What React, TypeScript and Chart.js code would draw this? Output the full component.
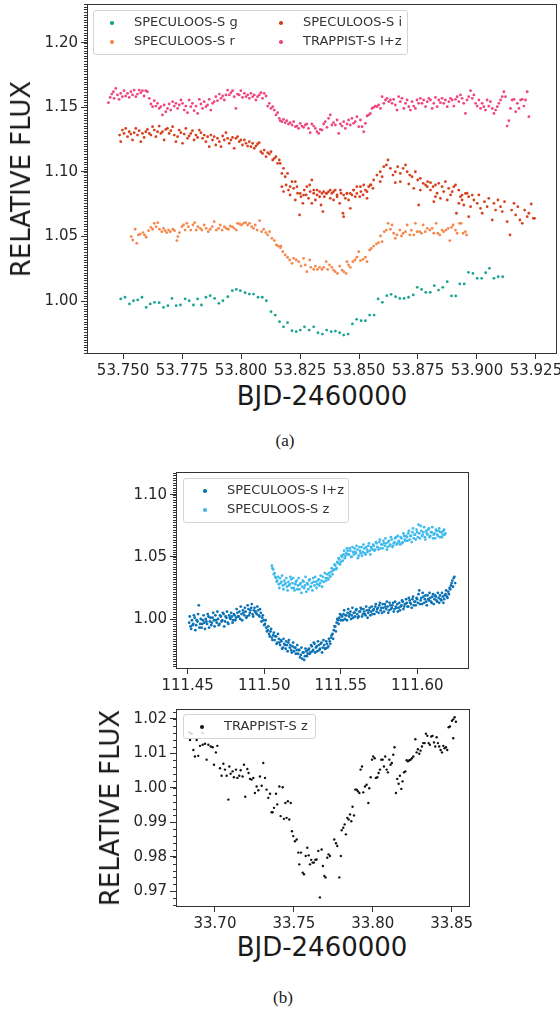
import React, { useEffect, useRef } from 'react';
import { Chart, registerables } from 'chart.js';

Chart.register(...registerables);
Chart.defaults.font.family = '"DejaVu Sans", sans-serif';

type Pt = [number, number];

// ---------- Panel (a) : BJD-2460000 vs relative flux ----------
const A_X_TICKS = [53.75, 53.775, 53.8, 53.825, 53.85, 53.875, 53.9, 53.925];
const A_Y_TICKS = [1.0, 1.05, 1.1, 1.15, 1.2];

const SPEC_G: Pt[] = [
[53.7490,1.0016],[53.7508,1.0029],[53.7527,0.9977],[53.7544,1.0002],[53.7562,1.0008],[53.7580,1.0029],[53.7598,0.9951],[53.7615,0.9977],[53.7633,0.9990],[53.7653,0.9987],
[53.7671,0.9951],[53.7690,0.9964],[53.7707,1.0020],[53.7725,0.9964],[53.7743,0.9969],[53.7763,1.0016],[53.7780,1.0002],[53.7798,0.9969],[53.7816,1.0016],[53.7832,0.9969],
[53.7851,1.0029],[53.7869,1.0041],[53.7888,1.0020],[53.7906,0.9982],[53.7923,1.0002],[53.7944,1.0033],[53.7963,1.0080],[53.7980,1.0090],[53.7997,1.0080],[53.8017,1.0064],
[53.8035,1.0054],[53.8053,1.0054],[53.8072,1.0029],[53.8090,1.0029],[53.8107,1.0002],[53.8127,0.9917],[53.8145,0.9891],[53.8163,0.9840],[53.8180,0.9800],[53.8197,0.9832],
[53.8216,0.9770],[53.8234,0.9762],[53.8251,0.9775],[53.8269,0.9800],[53.8289,0.9775],[53.8308,0.9800],[53.8326,0.9754],[53.8345,0.9744],[53.8363,0.9775],[53.8382,0.9762],
[53.8400,0.9767],[53.8418,0.9754],[53.8435,0.9736],[53.8454,0.9744],[53.8472,0.9822],[53.8490,0.9858],[53.8509,0.9847],[53.8527,0.9847],[53.8545,0.9891],[53.8564,0.9891],
[53.8581,1.0016],[53.8599,0.9990],[53.8618,1.0041],[53.8636,1.0052],[53.8655,1.0033],[53.8673,1.0020],[53.8691,1.0020],[53.8710,1.0029],[53.8730,1.0047],[53.8747,1.0106],
[53.8765,1.0090],[53.8783,1.0067],[53.8802,1.0067],[53.8819,1.0119],[53.8837,1.0085],[53.8855,1.0106],[53.8874,1.0150],[53.8892,1.0039],[53.8910,1.0039],[53.8927,1.0132],
[53.8946,1.0132],[53.8964,1.0222],[53.8983,1.0214],[53.9001,1.0176],[53.9020,1.0176],[53.9037,1.0219],[53.9053,1.0253],[53.9072,1.0176],[53.9090,1.0188],[53.9109,1.0188]
];

const SPEC_R: Pt[] = [
[53.7534,1.0499],[53.7541,1.0473],[53.7551,1.0556],[53.7558,1.0447],[53.7565,1.0512],[53.7572,1.0519],[53.7584,1.0530],[53.7591,1.0512],[53.7598,1.0494],[53.7608,1.0545],
[53.7618,1.0571],[53.7625,1.0556],[53.7632,1.0602],[53.7640,1.0576],[53.7647,1.0607],[53.7654,1.0556],[53.7664,1.0537],[53.7671,1.0563],[53.7678,1.0545],[53.7685,1.0530],
[53.7693,1.0550],[53.7700,1.0537],[53.7711,1.0556],[53.7718,1.0545],[53.7728,1.0468],[53.7732,1.0499],[53.7739,1.0530],[53.7749,1.0576],[53.7756,1.0589],[53.7763,1.0550],
[53.7770,1.0602],[53.7777,1.0576],[53.7787,1.0550],[53.7796,1.0589],[53.7803,1.0607],[53.7810,1.0550],[53.7817,1.0576],[53.7827,1.0563],[53.7834,1.0550],[53.7844,1.0589],
[53.7852,1.0563],[53.7861,1.0537],[53.7869,1.0556],[53.7878,1.0576],[53.7886,1.0615],[53.7895,1.0550],[53.7905,1.0563],[53.7912,1.0589],[53.7920,1.0550],[53.7929,1.0576],
[53.7937,1.0563],[53.7946,1.0556],[53.7954,1.0581],[53.7963,1.0576],[53.7971,1.0563],[53.7980,1.0550],[53.7985,1.0602],[53.7994,1.0597],[53.8002,1.0589],[53.8011,1.0602],
[53.8019,1.0607],[53.8028,1.0589],[53.8036,1.0602],[53.8045,1.0576],[53.8053,1.0563],[53.8060,1.0589],[53.8068,1.0550],[53.8079,1.0623],[53.8087,1.0537],[53.8096,1.0556],
[53.8105,1.0530],[53.8113,1.0512],[53.8121,1.0537],[53.8131,1.0486],[53.8141,1.0468],[53.8150,1.0434],[53.8158,1.0426],[53.8167,1.0413],
[53.8169,1.0426],[53.8177,1.0382],[53.8187,1.0357],[53.8197,1.0339],[53.8206,1.0318],[53.8216,1.0292],[53.8223,1.0331],[53.8234,1.0318],[53.8244,1.0305],[53.8254,1.0271],
[53.8265,1.0331],[53.8272,1.0279],[53.8279,1.0227],[53.8291,1.0318],[53.8296,1.0261],[53.8308,1.0245],[53.8315,1.0271],[53.8324,1.0245],[53.8333,1.0261],[53.8343,1.0245],
[53.8350,1.0261],[53.8361,1.0305],[53.8367,1.0245],[53.8375,1.0279],[53.8385,1.0261],[53.8392,1.0240],[53.8399,1.0227],[53.8409,1.0214],[53.8418,1.0271],[53.8428,1.0240],
[53.8435,1.0227],[53.8445,1.0214],[53.8449,1.0305],[53.8456,1.0279],[53.8463,1.0261],[53.8474,1.0305],[53.8483,1.0318],[53.8491,1.0339],[53.8499,1.0382],[53.8506,1.0313],
[53.8517,1.0323],[53.8527,1.0339],[53.8534,1.0305],[53.8545,1.0395],[53.8552,1.0408],[53.8562,1.0426],[53.8574,1.0442],[53.8583,1.0452],[53.8591,1.0504],[53.8598,1.0460],
[53.8607,1.0537],[53.8616,1.0550],[53.8623,1.0602],[53.8633,1.0556],[53.8640,1.0589],[53.8647,1.0525],[53.8654,1.0486],[53.8661,1.0512],[53.8673,1.0550],[53.8680,1.0504],
[53.8687,1.0525],[53.8697,1.0537],[53.8704,1.0589],[53.8715,1.0512],[53.8722,1.0550],[53.8732,1.0512],[53.8739,1.0602],[53.8746,1.0537],[53.8757,1.0537],[53.8765,1.0525],
[53.8772,1.0589],[53.8781,1.0537],[53.8789,1.0563],[53.8800,1.0550],[53.8810,1.0563],[53.8817,1.0525],[53.8827,1.0602],[53.8834,1.0525],[53.8842,1.0512],[53.8852,1.0550],
[53.8859,1.0537],[53.8869,1.0550],[53.8878,1.0563],[53.8885,1.0468],[53.8892,1.0571],[53.8899,1.0589],[53.8909,1.0550],[53.8916,1.0525],[53.8926,1.0602],[53.8933,1.0602],
[53.8941,1.0525],[53.8951,1.0537],[53.8956,1.0512]
];

const SPEC_I: Pt[] = [
[53.7485,1.1286],[53.7490,1.1235],[53.7497,1.1325],[53.7504,1.1299],[53.7511,1.1338],[53.7519,1.1274],[53.7526,1.1312],[53.7533,1.1294],[53.7540,1.1248],[53.7547,1.1305],
[53.7554,1.1338],[53.7561,1.1286],[53.7568,1.1320],[53.7575,1.1235],[53.7582,1.1299],[53.7589,1.1268],[53.7596,1.1312],[53.7603,1.1330],[53.7611,1.1299],[53.7618,1.1286],
[53.7625,1.1351],[53.7632,1.1325],[53.7639,1.1274],[53.7646,1.1312],[53.7653,1.1356],[53.7660,1.1299],[53.7667,1.1312],[53.7674,1.1248],[53.7681,1.1330],[53.7688,1.1338],
[53.7695,1.1299],[53.7702,1.1320],[53.7710,1.1351],[53.7717,1.1286],[53.7724,1.1235],[53.7731,1.1274],[53.7738,1.1325],[53.7745,1.1305],[53.7752,1.1222],[53.7759,1.1294],
[53.7766,1.1338],[53.7773,1.1261],[53.7780,1.1279],[53.7787,1.1299],[53.7794,1.1320],[53.7801,1.1248],[53.7809,1.1286],[53.7816,1.1268],[53.7823,1.1325],[53.7830,1.1305],
[53.7837,1.1261],[53.7844,1.1286],[53.7851,1.1235],[53.7858,1.1274],[53.7865,1.1196],[53.7872,1.1286],[53.7879,1.1248],[53.7886,1.1274],[53.7893,1.1209],[53.7900,1.1261],
[53.7908,1.1235],[53.7915,1.1196],[53.7922,1.1279],[53.7929,1.1248],[53.7936,1.1305],[53.7943,1.1261],[53.7950,1.1222],[53.7957,1.1248],[53.7964,1.1268],[53.7971,1.1183],
[53.7978,1.1261],[53.7985,1.1274],[53.7992,1.1235],[53.7999,1.1248],[53.8006,1.1209],[53.8014,1.1248],[53.8021,1.1222],[53.8028,1.1201],[53.8035,1.1235],[53.8042,1.1196],
[53.8049,1.1222],[53.8056,1.1183],[53.8063,1.1201],[53.8070,1.1217],[53.8077,1.1227],[53.8084,1.1157],[53.8091,1.1144],[53.8098,1.1170],[53.8106,1.1119],[53.8113,1.1150],
[53.8120,1.1139],[53.8127,1.1157],[53.8134,1.1093],[53.8141,1.1106],[53.8148,1.1119],[53.8155,1.1067],[53.8162,1.1093],
[53.8166,1.1067],[53.8173,1.0989],[53.8180,1.1028],[53.8187,1.0963],[53.8197,1.0989],[53.8208,1.0886],[53.8216,1.0925],[53.8230,1.0925],[53.8237,1.0886],[53.8251,1.0834],
[53.8265,1.0821],[53.8279,1.0886],[53.8291,1.0899],[53.8300,1.0938],[53.8308,1.0860],[53.8322,1.0860],[53.8333,1.0808],[53.8343,1.0834],[53.8350,1.0847],[53.8364,1.0834],
[53.8378,1.0860],[53.8392,1.0847],[53.8407,1.0808],[53.8421,1.0860],[53.8435,1.0821],[53.8449,1.0834],[53.8463,1.0834],[53.8477,1.0860],[53.8491,1.0834],[53.8506,1.0886],
[53.8520,1.0899],[53.8534,1.0847],[53.8548,1.0899],[53.8562,1.0938],[53.8576,1.0976],[53.8590,1.1002],[53.8598,1.0963],[53.8605,1.1041],[53.8616,1.1054],[53.8623,1.1093],
[53.8633,1.1028],[53.8644,1.0976],[53.8654,1.1002],[53.8664,1.1041],[53.8675,1.0989],[53.8687,1.1028],[53.8697,1.1054],[53.8704,1.1002],[53.8715,1.0976],[53.8725,1.0963],
[53.8739,1.1002],[53.8749,1.0938],[53.8760,1.0951],[53.8772,1.0912],[53.8782,1.0899],[53.8791,1.0925],[53.8803,1.0917],[53.8814,1.0886],[53.8824,1.0899],[53.8838,1.0912],
[53.8852,1.0886],[53.8866,1.0925],[53.8880,1.0873],[53.8895,1.0847],[53.8909,1.0899],[53.8923,1.0860],[53.8937,1.0821],[53.8951,1.0834],[53.8965,1.0808],[53.8980,1.0821],
[53.8173,1.0886],[53.8180,1.0848],[53.8191,1.0899],[53.8201,1.0860],[53.8208,1.0822],[53.8223,1.0873],[53.8230,1.0783],[53.8240,1.0835],[53.8248,1.0667],[53.8254,1.0809],
[53.8262,1.0757],[53.8268,1.0860],[53.8276,1.0822],[53.8286,1.0796],[53.8293,1.0848],[53.8300,1.0757],[53.8308,1.0835],[53.8315,1.0783],[53.8322,1.0822],[53.8333,1.0848],
[53.8339,1.0744],[53.8347,1.0693],[53.8353,1.0809],[53.8361,1.0835],[53.8371,1.0848],[53.8378,1.0796],[53.8385,1.0835],[53.8392,1.0783],[53.8399,1.0860],[53.8407,1.0822],
[53.8418,1.0757],[53.8424,1.0835],[53.8432,1.0680],[53.8435,1.0654],[53.8442,1.0796],[53.8449,1.0835],[53.8456,1.0783],[53.8463,1.0718],[53.8470,1.0822],[53.8477,1.0860],
[53.8484,1.0809],[53.8491,1.0886],[53.8503,1.0809],[53.8508,1.0848],[53.8517,1.0822],[53.8527,1.0860],[53.8534,1.0796],[53.8541,1.0886],[53.8551,1.0899],[53.8559,1.0873],
[53.8590,1.0925],[53.8654,1.0917],[53.8675,1.0925],[53.8711,1.0907],[53.8732,1.0873],[53.8760,1.0860],
[53.8753,1.0744],[53.8789,1.0886],[53.8803,1.0860],[53.8817,1.0770],[53.8824,1.0809],[53.8831,1.0835],[53.8845,1.0796],[53.8859,1.0848],[53.8874,1.0783],[53.8888,1.0822],
[53.8902,1.0886],[53.8913,1.0680],[53.8923,1.0757],[53.8930,1.0809],[53.8937,1.0783],[53.8944,1.0744],[53.8958,1.0835],[53.8965,1.0654],[53.8973,1.0731],[53.8987,1.0783],
[53.9001,1.0757],[53.9008,1.0822],[53.9015,1.0718],[53.9022,1.0680],[53.9032,1.0770],[53.9043,1.0731],[53.9050,1.0796],[53.9065,1.0628],[53.9072,1.0757],[53.9079,1.0705],
[53.9089,1.0783],[53.9100,1.0731],[53.9107,1.0693],[53.9117,1.0770],[53.9128,1.0615],[53.9140,1.0512],[53.9147,1.0705],[53.9157,1.0757],[53.9164,1.0667],[53.9173,1.0731],
[53.9182,1.0628],[53.9192,1.0602],[53.9202,1.0705],[53.9213,1.0654],[53.9220,1.0680],[53.9230,1.0752],[53.9239,1.0641],[53.9244,1.0641]
];

const TRAP_IZ: Pt[] = [
[53.7438,1.1537],[53.7445,1.1578],[53.7452,1.1604],[53.7459,1.1622],[53.7462,1.1571],[53.7469,1.1648],[53.7476,1.1597],[53.7483,1.1563],
[53.7490,1.1610],[53.7497,1.1584],[53.7504,1.1630],[53.7511,1.1589],[53.7519,1.1610],[53.7526,1.1578],[53.7533,1.1622],[53.7540,1.1597],[53.7547,1.1635],[53.7554,1.1584],
[53.7561,1.1604],[53.7568,1.1635],[53.7575,1.1615],[53.7582,1.1630],[53.7589,1.1589],[53.7596,1.1630],[53.7603,1.1622],[53.7611,1.1571],[53.7618,1.1527],[53.7625,1.1506],
[53.7632,1.1553],[53.7639,1.1511],[53.7646,1.1532],[53.7653,1.1493],[53.7660,1.1506],[53.7667,1.1442],[53.7674,1.1519],[53.7681,1.1467],[53.7688,1.1493],[53.7695,1.1527],
[53.7702,1.1480],[53.7710,1.1545],[53.7717,1.1511],[53.7724,1.1532],[53.7731,1.1493],[53.7738,1.1519],[53.7745,1.1558],[53.7752,1.1532],[53.7759,1.1480],[53.7766,1.1511],
[53.7773,1.1460],[53.7780,1.1558],[53.7787,1.1506],[53.7794,1.1532],[53.7801,1.1475],[53.7809,1.1511],[53.7816,1.1454],[53.7823,1.1563],[53.7830,1.1527],[53.7837,1.1493],
[53.7844,1.1545],[53.7851,1.1506],[53.7858,1.1519],[53.7865,1.1563],[53.7872,1.1480],[53.7879,1.1532],[53.7886,1.1545],[53.7893,1.1584],[53.7900,1.1553],[53.7908,1.1604],
[53.7915,1.1571],[53.7922,1.1589],[53.7929,1.1558],[53.7936,1.1597],[53.7943,1.1635],[53.7950,1.1597],[53.7957,1.1615],[53.7964,1.1630],[53.7971,1.1584],[53.7978,1.1493],
[53.7985,1.1604],[53.7992,1.1597],[53.7999,1.1630],[53.8006,1.1578],[53.8014,1.1610],[53.8021,1.1584],[53.8028,1.1597],[53.8035,1.1571],[53.8042,1.1610],[53.8049,1.1584],
[53.8056,1.1597],[53.8063,1.1558],[53.8070,1.1584],[53.8077,1.1597],[53.8084,1.1615],[53.8091,1.1571],[53.8098,1.1610],[53.8106,1.1589],[53.8113,1.1511],[53.8120,1.1532],
[53.8127,1.1493],[53.8134,1.1506],[53.8141,1.1480],[53.8148,1.1442],[53.8155,1.1460],[53.8162,1.1416],
[53.8166,1.1398],[53.8173,1.1390],[53.8180,1.1408],[53.8187,1.1382],[53.8194,1.1398],[53.8201,1.1372],[53.8208,1.1382],[53.8216,1.1364],[53.8223,1.1390],[53.8230,1.1351],
[53.8237,1.1356],[53.8244,1.1338],[53.8251,1.1377],[53.8258,1.1356],[53.8265,1.1346],[53.8272,1.1364],[53.8279,1.1372],[53.8286,1.1338],[53.8293,1.1305],[53.8300,1.1372],
[53.8308,1.1356],[53.8315,1.1338],[53.8322,1.1312],[53.8329,1.1299],[53.8336,1.1330],[53.8343,1.1325],[53.8350,1.1372],[53.8357,1.1390],[53.8364,1.1346],[53.8371,1.1416],
[53.8378,1.1442],[53.8385,1.1364],[53.8392,1.1382],[53.8400,1.1364],[53.8407,1.1403],[53.8414,1.1299],[53.8421,1.1372],[53.8428,1.1356],[53.8435,1.1390],[53.8442,1.1338],
[53.8449,1.1372],[53.8456,1.1403],[53.8463,1.1364],[53.8470,1.1416],[53.8477,1.1377],[53.8484,1.1390],[53.8491,1.1429],[53.8499,1.1351],[53.8506,1.1403],[53.8513,1.1351],
[53.8520,1.1312],[53.8527,1.1377],[53.8534,1.1434],[53.8541,1.1442],[53.8548,1.1454],[53.8555,1.1493],[53.8562,1.1501],[53.8569,1.1511],[53.8576,1.1506],[53.8583,1.1519],
[53.8591,1.1493],[53.8598,1.1584],[53.8605,1.1532],[53.8612,1.1558],[53.8619,1.1571],[53.8626,1.1545],[53.8633,1.1558],[53.8640,1.1532],[53.8647,1.1563],[53.8654,1.1519],
[53.8661,1.1480],[53.8668,1.1584],[53.8675,1.1545],[53.8682,1.1571],[53.8690,1.1493],[53.8697,1.1532],[53.8704,1.1558],[53.8711,1.1506],[53.8718,1.1480],[53.8725,1.1545],
[53.8732,1.1511],[53.8739,1.1493],[53.8746,1.1558],[53.8753,1.1532],[53.8760,1.1571],[53.8767,1.1532],[53.8774,1.1558],[53.8782,1.1506],[53.8789,1.1545],[53.8796,1.1571],
[53.8803,1.1558],[53.8810,1.1493],[53.8817,1.1532],[53.8824,1.1578],[53.8831,1.1506],[53.8838,1.1558],[53.8845,1.1537],[53.8852,1.1571],[53.8859,1.1532],[53.8866,1.1558],
[53.8874,1.1506],[53.8881,1.1545],[53.8888,1.1571],[53.8895,1.1558],[53.8902,1.1511],[53.8909,1.1563],[53.8916,1.1584],[53.8923,1.1545],[53.8930,1.1597],[53.8937,1.1571],
[53.8944,1.1532],[53.8951,1.1454],[53.8958,1.1558],[53.8965,1.1584],[53.8973,1.1630],[53.8980,1.1571],[53.8987,1.1597],[53.8994,1.1532],[53.9001,1.1511],[53.9008,1.1558],
[53.9015,1.1493],[53.9022,1.1532],[53.9029,1.1506],[53.9036,1.1480],[53.9043,1.1558],[53.9050,1.1511],[53.9057,1.1545],[53.9065,1.1493],[53.9072,1.1454],[53.9079,1.1480],
[53.9086,1.1506],[53.9093,1.1532],[53.9100,1.1558],[53.9107,1.1584],[53.9114,1.1622],[53.9121,1.1584],[53.9128,1.1356],[53.9135,1.1398],[53.9142,1.1493],[53.9149,1.1558],
[53.9157,1.1563],[53.9164,1.1467],[53.9171,1.1532],[53.9178,1.1493],[53.9185,1.1558],[53.9192,1.1563],[53.9199,1.1511],[53.9206,1.1558],[53.9213,1.1622],[53.9220,1.1429]
];

// ---------- Panel (b), top ----------
const B1_X_TICKS = [111.45, 111.5, 111.55, 111.6];
const B1_Y_TICKS = [1.0, 1.05, 1.1];

const SPEC_IZ: Pt[] = [
[111.4510,0.997],[111.4519,0.994],[111.4528,0.999],[111.4537,0.996],[111.4546,1.001],[111.4555,0.995],[111.4564,0.998],[111.4573,1.011],[111.4582,0.996],[111.4591,0.993],
[111.4600,0.999],[111.4609,0.997],[111.4618,1.000],[111.4627,0.996],[111.4636,1.002],[111.4645,0.998],[111.4654,0.995],[111.4663,1.001],[111.4672,0.999],[111.4681,1.003],
[111.4690,0.997],[111.4699,1.000],[111.4708,0.996],[111.4717,1.002],[111.4726,0.999],[111.4735,1.004],[111.4744,0.998],[111.4753,1.001],[111.4762,0.997],[111.4771,1.003],
[111.4780,1.000],[111.4789,1.002],[111.4798,0.999],[111.4807,1.003],[111.4816,1.001],[111.4825,1.005],[111.4834,1.002],[111.4843,1.000],[111.4852,1.004],[111.4861,1.007],
[111.4870,1.003],[111.4879,1.006],[111.4888,1.002],[111.4897,1.008],[111.4906,1.005],[111.4915,1.009],[111.4924,1.004],[111.4933,1.007],[111.4942,1.006],[111.4951,1.004],
[111.4960,1.007],[111.4969,1.002],[111.4978,1.005],[111.4987,1.001],[111.4996,0.999],[111.5005,0.996],[111.5014,0.993],[111.5023,0.991],[111.5032,0.988],[111.5041,0.990],
[111.5050,0.985],[111.5059,0.987],[111.5068,0.983],[111.5077,0.986],[111.5086,0.981],[111.5095,0.984],[111.5104,0.979],[111.5113,0.982],[111.5122,0.977],[111.5131,0.980],
[111.5140,0.976],[111.5149,0.979],[111.5158,0.981],[111.5167,0.977],[111.5176,0.975],[111.5185,0.978],[111.5194,0.974],[111.5203,0.977],[111.5212,0.975],[111.5221,0.972],
[111.5230,0.975],[111.5239,0.971],[111.5248,0.968],[111.5257,0.973],[111.5266,0.970],[111.5275,0.974],[111.5284,0.972],[111.5293,0.976],[111.5302,0.973],[111.5311,0.978],
[111.5320,0.975],[111.5329,0.980],[111.5338,0.977],[111.5347,0.974],[111.5356,0.979],[111.5365,0.976],[111.5374,0.981],[111.5383,0.977],[111.5392,0.979],[111.5401,0.976],
[111.5410,0.980],[111.5419,0.978],[111.5428,0.982],[111.5437,0.985],[111.5446,0.988],[111.5455,0.991],[111.5464,0.994],[111.5473,0.997],[111.5482,0.999],[111.5491,1.001],
[111.5500,0.999],[111.5509,1.002],[111.5518,1.004],[111.5527,1.000],[111.5536,1.003],[111.5545,1.005],[111.5554,1.002],[111.5563,1.006],[111.5572,1.003],[111.5581,1.001],
[111.5590,1.005],[111.5599,1.007],[111.5608,1.004],[111.5617,1.002],[111.5626,1.006],[111.5635,1.008],[111.5644,1.004],[111.5653,1.006],[111.5662,1.003],[111.5671,1.007],
[111.5680,1.005],[111.5689,1.009],[111.5698,1.006],[111.5707,1.004],[111.5716,1.008],[111.5725,1.010],[111.5734,1.006],[111.5743,1.009],[111.5752,1.011],[111.5761,1.007],
[111.5770,1.005],[111.5779,1.009],[111.5788,1.012],[111.5797,1.008],[111.5806,1.010],[111.5815,1.007],[111.5824,1.011],[111.5833,1.009],[111.5842,1.013],[111.5851,1.008],
[111.5860,1.010],[111.5869,1.012],[111.5878,1.009],[111.5887,1.007],[111.5896,1.011],[111.5905,1.014],[111.5914,1.010],[111.5923,1.012],[111.5932,1.013],[111.5941,1.010],
[111.5950,1.015],[111.5959,1.012],[111.5968,1.016],[111.5977,1.011],[111.5986,1.014],[111.5995,1.017],[111.6004,1.013],[111.6013,1.023],[111.6022,1.015],[111.6031,1.012],
[111.6040,1.018],[111.6049,1.016],[111.6058,1.014],[111.6067,1.019],[111.6076,1.015],[111.6085,1.017],[111.6094,1.013],[111.6103,1.020],[111.6112,1.016],[111.6121,1.018],
[111.6130,1.014],[111.6139,1.017],[111.6148,1.019],[111.6157,1.015],[111.6166,1.018],[111.6175,1.016],[111.6184,1.020],[111.6193,1.018],[111.6202,1.022],[111.6211,1.025],
[111.6220,1.027],[111.6229,1.031],[111.6238,1.033],[111.6247,1.029],
[111.4514,1.002],[111.4523,0.992],[111.4532,0.995],[111.4541,1.003],[111.4550,0.991],[111.4559,0.999],[111.4568,1.004],[111.4577,0.993],[111.4586,1.000],[111.4595,0.996],
[111.4604,1.003],[111.4613,0.992],[111.4622,0.998],[111.4631,1.004],[111.4640,0.993],[111.4649,1.001],[111.4658,0.997],[111.4667,1.005],[111.4676,0.994],[111.4685,0.999],
[111.4694,1.006],[111.4703,0.995],[111.4712,1.003],[111.4721,0.998],[111.4730,1.005],[111.4739,0.994],[111.4748,1.002],[111.4757,1.006],[111.4766,0.996],[111.4775,1.001],
[111.4784,1.005],[111.4793,0.997],[111.4802,1.004],[111.4811,0.999],[111.4820,1.008],[111.4829,1.002],[111.4838,1.006],[111.4847,1.010],[111.4856,0.999],[111.4865,1.005],
[111.4874,1.009],[111.4883,1.001],[111.4892,1.011],[111.4901,1.003],[111.4910,1.007],[111.4919,1.012],[111.4928,1.002],[111.4937,1.009],[111.4946,1.005],[111.4955,1.010],
[111.4964,1.003],[111.4973,1.008],[111.4982,0.998],[111.4991,1.003],[111.5000,0.995],[111.5009,0.999],[111.5018,0.990],[111.5027,0.994],[111.5036,0.986],[111.5045,0.992],
[111.5054,0.983],[111.5063,0.989],[111.5072,0.986],[111.5081,0.980],[111.5090,0.988],[111.5099,0.981],[111.5108,0.983],[111.5117,0.976],[111.5126,0.984],[111.5135,0.979],
[111.5144,0.982],[111.5153,0.974],[111.5162,0.983],[111.5171,0.979],[111.5180,0.973],[111.5189,0.981],[111.5198,0.977],[111.5207,0.972],[111.5216,0.979],[111.5225,0.975],
[111.5234,0.969],[111.5243,0.977],[111.5252,0.973],[111.5261,0.967],[111.5270,0.976],[111.5279,0.970],[111.5288,0.975],[111.5297,0.972],[111.5306,0.979],[111.5315,0.974],
[111.5324,0.981],[111.5333,0.973],[111.5342,0.978],[111.5351,0.982],[111.5360,0.975],[111.5369,0.980],[111.5378,0.973],[111.5387,0.983],[111.5396,0.976],[111.5405,0.982],
[111.5414,0.977],[111.5423,0.984],[111.5432,0.980],[111.5441,0.987],[111.5450,0.984],[111.5459,0.994],[111.5468,0.990],[111.5477,1.000],[111.5486,0.996],[111.5495,1.004],
[111.5504,1.003],[111.5513,0.999],[111.5522,1.007],[111.5531,1.003],[111.5540,0.999],[111.5549,1.008],[111.5558,1.004],[111.5567,1.000],[111.5576,1.009],[111.5585,1.005],
[111.5594,1.002],[111.5603,1.008],[111.5612,1.001],[111.5621,1.006],[111.5630,1.009],[111.5639,1.002],[111.5648,1.008],[111.5657,1.004],[111.5666,1.010],[111.5675,1.001],
[111.5684,1.007],[111.5693,1.003],[111.5702,1.010],[111.5711,1.007],[111.5720,1.004],[111.5729,1.012],[111.5738,1.008],[111.5747,1.005],[111.5756,1.013],[111.5765,1.009],
[111.5774,1.012],[111.5783,1.006],[111.5792,1.010],[111.5801,1.014],[111.5810,1.005],[111.5819,1.013],[111.5828,1.008],[111.5837,1.011],[111.5846,1.006],[111.5855,1.014],
[111.5864,1.009],[111.5873,1.006],[111.5882,1.013],[111.5891,1.010],[111.5900,1.015],[111.5909,1.008],[111.5918,1.012],[111.5927,1.016],[111.5936,1.010],[111.5945,1.017],
[111.5954,1.013],[111.5963,1.009],[111.5972,1.018],[111.5981,1.014],[111.5990,1.011],[111.5999,1.016],[111.6008,1.020],[111.6017,1.012],[111.6026,1.017],[111.6035,1.021],
[111.6044,1.013],[111.6053,1.019],[111.6062,1.011],[111.6071,1.016],[111.6080,1.021],[111.6089,1.014],[111.6098,1.018],[111.6107,1.012],[111.6116,1.019],[111.6125,1.015],
[111.6134,1.021],[111.6143,1.013],[111.6152,1.016],[111.6161,1.021],[111.6170,1.013],[111.6179,1.019],[111.6188,1.023],[111.6197,1.017],[111.6206,1.020],[111.6215,1.024],
[111.6224,1.029],[111.6233,1.026],[111.6242,1.034]
];

const SPEC_Z: Pt[] = [
[111.5050,1.043],[111.5059,1.040],[111.5068,1.037],[111.5077,1.033],[111.5086,1.031],[111.5095,1.028],[111.5104,1.033],[111.5113,1.030],[111.5122,1.027],[111.5131,1.031],
[111.5140,1.029],[111.5149,1.026],[111.5158,1.030],[111.5167,1.028],[111.5176,1.032],[111.5185,1.029],[111.5194,1.025],[111.5203,1.028],[111.5212,1.031],[111.5221,1.027],
[111.5230,1.024],[111.5239,1.029],[111.5248,1.026],[111.5257,1.030],[111.5266,1.027],[111.5275,1.022],[111.5284,1.028],[111.5293,1.031],[111.5302,1.026],[111.5311,1.029],
[111.5320,1.033],[111.5329,1.027],[111.5338,1.030],[111.5347,1.028],[111.5356,1.032],[111.5365,1.029],[111.5374,1.031],[111.5383,1.034],[111.5392,1.030],[111.5401,1.033],
[111.5410,1.036],[111.5419,1.032],[111.5428,1.035],[111.5437,1.038],[111.5446,1.036],[111.5455,1.040],[111.5464,1.043],[111.5473,1.041],[111.5482,1.045],[111.5491,1.048],
[111.5500,1.046],[111.5509,1.050],[111.5518,1.052],[111.5527,1.049],[111.5536,1.053],[111.5545,1.055],[111.5554,1.052],[111.5563,1.055],[111.5572,1.050],[111.5581,1.054],
[111.5590,1.057],[111.5599,1.053],[111.5608,1.056],[111.5617,1.051],[111.5626,1.055],[111.5635,1.058],[111.5644,1.054],[111.5653,1.057],[111.5662,1.052],[111.5671,1.056],
[111.5680,1.059],[111.5689,1.055],[111.5698,1.058],[111.5707,1.056],[111.5716,1.059],[111.5725,1.056],[111.5734,1.061],[111.5743,1.058],[111.5752,1.062],[111.5761,1.057],
[111.5770,1.060],[111.5779,1.063],[111.5788,1.059],[111.5797,1.061],[111.5806,1.058],[111.5815,1.063],[111.5824,1.060],[111.5833,1.064],[111.5842,1.059],[111.5851,1.062],
[111.5860,1.066],[111.5869,1.061],[111.5878,1.063],[111.5887,1.060],[111.5896,1.065],[111.5905,1.062],[111.5914,1.067],[111.5923,1.063],[111.5932,1.066],[111.5941,1.069],
[111.5950,1.064],[111.5959,1.067],[111.5968,1.070],[111.5977,1.065],[111.5986,1.068],[111.5995,1.072],[111.6004,1.066],[111.6013,1.069],[111.6022,1.075],[111.6031,1.067],
[111.6040,1.070],[111.6049,1.066],[111.6058,1.071],[111.6067,1.068],[111.6076,1.073],[111.6085,1.067],[111.6094,1.070],[111.6103,1.065],[111.6112,1.069],[111.6121,1.072],
[111.6130,1.068],[111.6139,1.071],[111.6148,1.066],[111.6157,1.070],[111.6166,1.068],[111.6175,1.072],[111.6184,1.069],
[111.5054,1.041],[111.5063,1.036],[111.5072,1.034],[111.5081,1.030],[111.5090,1.034],[111.5099,1.025],[111.5108,1.029],[111.5117,1.035],[111.5126,1.024],[111.5135,1.028],
[111.5144,1.033],[111.5153,1.023],[111.5162,1.027],[111.5171,1.034],[111.5180,1.025],[111.5189,1.033],[111.5198,1.023],[111.5207,1.030],[111.5216,1.024],[111.5225,1.033],
[111.5234,1.028],[111.5243,1.021],[111.5252,1.031],[111.5261,1.025],[111.5270,1.034],[111.5279,1.029],[111.5288,1.024],[111.5297,1.032],[111.5306,1.026],[111.5315,1.023],
[111.5324,1.030],[111.5333,1.034],[111.5342,1.025],[111.5351,1.031],[111.5360,1.027],[111.5369,1.035],[111.5378,1.026],[111.5387,1.030],[111.5396,1.037],[111.5405,1.031],
[111.5414,1.033],[111.5423,1.037],[111.5432,1.034],[111.5441,1.041],[111.5450,1.039],[111.5459,1.044],[111.5468,1.040],[111.5477,1.046],[111.5486,1.049],[111.5495,1.044],
[111.5504,1.051],[111.5513,1.047],[111.5522,1.055],[111.5531,1.051],[111.5540,1.057],[111.5549,1.052],[111.5558,1.057],[111.5567,1.050],[111.5576,1.058],[111.5585,1.052],
[111.5594,1.054],[111.5603,1.059],[111.5612,1.049],[111.5621,1.058],[111.5630,1.053],[111.5639,1.051],[111.5648,1.060],[111.5657,1.053],[111.5666,1.058],[111.5675,1.054],
[111.5684,1.061],[111.5693,1.052],[111.5702,1.057],[111.5711,1.060],[111.5720,1.055],[111.5729,1.062],[111.5738,1.058],[111.5747,1.056],[111.5756,1.064],[111.5765,1.060],
[111.5774,1.057],[111.5783,1.061],[111.5792,1.065],[111.5801,1.056],[111.5810,1.062],[111.5819,1.059],[111.5828,1.066],[111.5837,1.058],[111.5846,1.061],[111.5855,1.065],
[111.5864,1.060],[111.5873,1.067],[111.5882,1.062],[111.5891,1.066],[111.5900,1.061],[111.5909,1.069],[111.5918,1.064],[111.5927,1.067],[111.5936,1.063],[111.5945,1.071],
[111.5954,1.067],[111.5963,1.062],[111.5972,1.073],[111.5981,1.068],[111.5990,1.064],[111.5999,1.070],[111.6008,1.076],[111.6017,1.065],[111.6026,1.071],[111.6035,1.068],
[111.6044,1.074],[111.6053,1.064],[111.6062,1.069],[111.6071,1.072],[111.6080,1.066],[111.6089,1.070],[111.6098,1.074],[111.6107,1.068],[111.6116,1.065],[111.6125,1.071],
[111.6134,1.067],[111.6143,1.073],[111.6152,1.070],[111.6161,1.066],[111.6170,1.071],[111.6179,1.068]
];

// ---------- Panel (b), bottom ----------
const B2_X_TICKS = [33.7, 33.75, 33.8, 33.85];
const B2_Y_TICKS = [0.97, 0.98, 0.99, 1.0, 1.01, 1.02];

const TRAP_Z: Pt[] = [
[33.6838,1.0161],[33.6842,1.0139],[33.6852,1.0157],[33.6863,1.0110],[33.6873,1.0091],[33.6884,1.0139],[33.6894,1.0093],[33.6905,1.0122],[33.6922,1.0125],[33.6922,1.0159],
[33.6937,1.0128],[33.6947,1.0082],[33.6958,1.0125],[33.6973,1.0120],[33.6985,1.0118],[33.6994,1.0067],[33.7006,1.0103],[33.7015,1.0122],[33.7032,1.0057],[33.7042,1.0035],
[33.7053,1.0070],[33.7063,1.0053],[33.7074,1.0035],[33.7085,0.9966],[33.7091,1.0062],[33.7099,1.0041],[33.7112,1.0048],[33.7120,1.0031],[33.7133,1.0053],[33.7142,1.0029],
[33.7154,1.0035],[33.7163,1.0051],[33.7175,1.0033],[33.7184,1.0067],[33.7192,0.9974],[33.7205,1.0055],[33.7213,1.0043],[33.7222,1.0026],[33.7232,1.0024],[33.7243,1.0029],
[33.7253,0.9985],[33.7264,1.0004],[33.7275,0.9993],[33.7285,1.0033],[33.7296,1.0006],[33.7306,1.0072],[33.7317,1.0029],[33.7327,0.9995],[33.7338,0.9971],[33.7349,0.9983],
[33.7359,0.9929],[33.7365,0.9929],[33.7374,0.9942],[33.7387,0.9983],[33.7395,0.9952],[33.7408,1.0004],[33.7416,0.9918],[33.7429,1.0002],[33.7437,0.9910],[33.7446,0.9956],
[33.7454,0.9913],[33.7462,0.9961],[33.7471,0.9908],[33.7480,0.9956],[33.7488,0.9874],[33.7496,0.9860],[33.7507,0.9845],[33.7518,0.9850],[33.7528,0.9812],[33.7534,0.9778],
[33.7545,0.9812],[33.7556,0.9754],[33.7564,0.9749],[33.7575,0.9802],[33.7585,0.9826],[33.7594,0.9804],[33.7602,0.9778],[33.7610,0.9791],[33.7619,0.9783],[33.7627,0.9783],
[33.7636,0.9791],[33.7644,0.9792],[33.7655,0.9817],[33.7665,0.9682],[33.7676,0.9821],[33.7684,0.9773],[33.7693,0.9744],[33.7701,0.9740],[33.7712,0.9797],[33.7720,0.9807],
[33.7729,0.9802],[33.7756,0.9850],[33.7767,0.9839],[33.7775,0.9831],[33.7788,0.9740],[33.7798,0.9802],[33.7803,0.9877],[33.7813,0.9884],[33.7822,0.9894],[33.7830,0.9865],
[33.7839,0.9913],[33.7847,0.9908],[33.7856,0.9923],[33.7864,0.9903],[33.7872,0.9945],[33.7881,0.9920],[33.7889,0.9995],[33.7898,0.9995],[33.7906,0.9990],[33.7915,0.9985],
[33.7923,1.0053],[33.7932,1.0062],[33.7940,0.9987],[33.7951,1.0004],[33.7961,1.0009],[33.7972,0.9956],[33.7978,0.9999],[33.7987,1.0031],[33.7995,1.0082],[33.8003,1.0091],
[33.8012,1.0086],[33.8020,1.0029],[33.8029,1.0031],[33.8037,1.0043],[33.8046,1.0053],[33.8054,1.0082],[33.8063,1.0082],[33.8071,1.0062],[33.8079,1.0091],[33.8088,1.0053],
[33.8096,1.0045],[33.8105,1.0082],[33.8113,1.0067],[33.8121,1.0072],[33.8130,1.0096],[33.8138,1.0118],[33.8147,0.9985],[33.8155,1.0026],[33.8164,1.0012],[33.8172,1.0035],
[33.8181,0.9997],[33.8189,1.0019],[33.8198,1.0045],[33.8206,1.0048],[33.8215,1.0080],[33.8223,1.0077],[33.8232,1.0080],[33.8240,1.0082],[33.8248,1.0086],[33.8257,1.0091],
[33.8270,1.0141],[33.8278,1.0103],[33.8286,1.0112],[33.8295,1.0099],[33.8303,1.0108],[33.8312,1.0120],[33.8320,1.0130],[33.8329,1.0130],[33.8337,1.0157],[33.8346,1.0151],
[33.8354,1.0130],[33.8362,1.0125],[33.8371,1.0149],[33.8379,1.0151],[33.8388,1.0132],[33.8396,1.0120],[33.8405,1.0147],[33.8413,1.0130],[33.8421,1.0120],[33.8430,1.0110],
[33.8439,1.0103],[33.8447,1.0122],[33.8455,1.0115],[33.8464,1.0118],[33.8472,1.0110],[33.8481,1.0176],[33.8489,1.0178],[33.8502,1.0195],[33.8510,1.0199],[33.8519,1.0205],
[33.8527,1.0192],[33.8510,1.0144]
];

const SERIES_A = [
  { label: 'SPECULOOS-S g', color: '#1ba393', data: SPEC_G },
  { label: 'SPECULOOS-S r', color: '#f5874b', data: SPEC_R },
  { label: 'SPECULOOS-S i', color: '#d7401e', data: SPEC_I },
  { label: 'TRAPPIST-S I+z', color: '#ef4480', data: TRAP_IZ },
];
const SERIES_B1 = [
  { label: 'SPECULOOS-S I+z', color: '#0b72b6', data: SPEC_IZ },
  { label: 'SPECULOOS-S z', color: '#3fbaec', data: SPEC_Z },
];
const SERIES_B2 = [{ label: 'TRAPPIST-S z', color: '#111111', data: TRAP_Z }];

const AXIS = '#333333';
const TXT = '#262626';
const FONT = '"DejaVu Sans", sans-serif';

type Series = { label: string; color: string; data: Pt[] };
type PanelProps = {
  top: number; height: number;
  padTop: number; padRight: number; yW: number; xH: number;
  xMin: number; xMax: number; xTicks: number[]; xDec: number;
  yMin: number; yMax: number; yTicks: number[]; yDec: number;
  minor: number; radius: number;
  series: Series[];
};

function Panel(p: PanelProps) {
  const ref = useRef<HTMLCanvasElement>(null);
  useEffect(() => {
    const canvas = ref.current!;
    const decor = {
      id: 'decor',
      afterDraw(chart: any) {
        const { ctx, chartArea: a } = chart;
        const ys = chart.scales.y;
        ctx.save();
        ctx.strokeStyle = AXIS;
        ctx.lineWidth = 1;
        ctx.beginPath();
        const start = Math.ceil(ys.min / p.minor) * p.minor;
        for (let v = start; v <= ys.max + 1e-9; v += p.minor) {
          const py = Math.round(ys.getPixelForValue(v)) + 0.5;
          ctx.moveTo(a.left - 3, py);
          ctx.lineTo(a.left, py);
        }
        ctx.stroke();
        ctx.strokeRect(Math.round(a.left) + 0.5, Math.round(a.top) + 0.5,
          Math.round(a.right - a.left), Math.round(a.bottom - a.top));
        ctx.restore();
      },
    };
    const tickFont = { size: 15, family: FONT };
    const chart = new Chart(canvas, {
      type: 'scatter',
      data: {
        datasets: p.series.map((s) => ({
          label: s.label,
          data: s.data.map(([x, y]) => ({ x, y })),
          backgroundColor: s.color,
          borderWidth: 0,
          pointRadius: p.radius,
          pointHoverRadius: p.radius,
        })),
      },
      options: {
        responsive: false,
        animation: false,
        events: [],
        layout: { padding: { top: p.padTop, right: p.padRight, left: 0, bottom: 0 } },
        plugins: { legend: { display: false }, tooltip: { enabled: false } },
        scales: {
          x: {
            type: 'linear', min: p.xMin, max: p.xMax,
            afterBuildTicks: (s: any) => { s.ticks = p.xTicks.map((v) => ({ value: v })); },
            afterFit: (s: any) => { s.height = p.xH; s.paddingLeft = 0; s.paddingRight = 0; },
            ticks: { autoSkip: false, maxRotation: 0, minRotation: 0, padding: 3, color: TXT, font: tickFont,
              callback: (v: any) => Number(v).toFixed(p.xDec) },
            grid: { display: true, drawOnChartArea: false, drawTicks: true, tickLength: 6, color: AXIS },
            border: { display: false },
          },
          y: {
            type: 'linear', min: p.yMin, max: p.yMax,
            afterBuildTicks: (s: any) => { s.ticks = p.yTicks.map((v) => ({ value: v })); },
            afterFit: (s: any) => { s.width = p.yW; s.paddingTop = 0; s.paddingBottom = 0; },
            ticks: { autoSkip: false, padding: 3, color: TXT, font: tickFont,
              callback: (v: any) => Number(v).toFixed(p.yDec) },
            grid: { display: true, drawOnChartArea: false, drawTicks: true, tickLength: 6, color: AXIS },
            border: { display: false },
          },
        },
      } as any,
      plugins: [decor],
    });
    return () => chart.destroy();
  }, []);
  return (
    <canvas ref={ref} width={560} height={p.height}
      style={{ position: 'absolute', left: 0, top: p.top, width: 560, height: p.height }} />
  );
}

type LegendItem = { label: string; color: string; x: number; y: number; r: number };

function Legend({ box, items }: { box: { l: number; t: number; w: number; h: number }; items: LegendItem[] }) {
  return (
    <div style={{ position: 'absolute', left: 0, top: 0 }}>
      <div style={{ position: 'absolute', left: box.l, top: box.t, width: box.w, height: box.h,
        border: '1px solid #d4d4d4', borderRadius: 3, background: 'rgba(255,255,255,0.8)', boxSizing: 'border-box' }} />
      {items.map((it) => (
        <React.Fragment key={it.label}>
          <div style={{ position: 'absolute', left: it.x - it.r, top: it.y - it.r, width: it.r * 2, height: it.r * 2,
            borderRadius: '50%', background: it.color }} />
          <div style={{ position: 'absolute', left: it.x + 22, top: it.y - 9, height: 18, lineHeight: '18px',
            font: `13px ${FONT}`, color: '#333', whiteSpace: 'nowrap' }}>{it.label}</div>
        </React.Fragment>
      ))}
    </div>
  );
}

function Label({ text, cx, cy, size, rotate, serif }: { text: string; cx: number; cy: number; size: number; rotate?: boolean; serif?: boolean }) {
  return (
    <div style={{ position: 'absolute', left: cx, top: cy, whiteSpace: 'nowrap', lineHeight: 1,
      font: `${size}px ${serif ? '"Liberation Serif", "DejaVu Serif", serif' : FONT}`, color: '#1a1a1a',
      transform: `translate(-50%, -50%)${rotate ? ' rotate(-90deg)' : ''}` }}>{text}</div>
  );
}

function place(s: Series, x: number, y: number, r: number): LegendItem {
  return { label: s.label, color: s.color, x, y, r };
}

export default function App() {
  return (
    <div style={{ position: 'absolute', left: 0, top: 0, width: 560, height: 1012, background: '#fff', overflow: 'hidden' }}>
      <Panel top={0} height={380} padTop={4} padRight={4} yW={87} xH={27}
        xMin={53.7347} xMax={53.9335} xTicks={A_X_TICKS} xDec={3}
        yMin={0.9597} yMax={1.2302} yTicks={A_Y_TICKS} yDec={2}
        minor={0.002} radius={1.4} series={SERIES_A} />
      <Legend box={{ l: 93, t: 10, w: 315, h: 45 }} items={[
        place(SERIES_A[0], 112, 23, 1.8),
        place(SERIES_A[1], 112, 42, 1.8),
        place(SERIES_A[2], 281, 23, 1.8),
        place(SERIES_A[3], 281, 42, 1.8),
      ]} />
      <Label text="RELATIVE FLUX" cx={21} cy={179} size={26} rotate />
      <Label text="BJD-2460000" cx={322} cy={396} size={26} />
      <Label text="(a)" cx={285} cy={441} size={17} serif />

      <Panel top={460} height={240} padTop={12} padRight={92} yW={176} xH={32}
        xMin={111.4424} xMax={111.6331} xTicks={B1_X_TICKS} xDec={2}
        yMin={0.9605} yMax={1.1185} yTicks={B1_Y_TICKS} yDec={2}
        minor={0.002} radius={1.4} series={SERIES_B1} />
      <Legend box={{ l: 183, t: 478, w: 166, h: 45 }} items={[
        place(SERIES_B1[0], 205, 491, 1.8),
        place(SERIES_B1[1], 205, 510, 1.8),
      ]} />

      <Panel top={700} height={230} padTop={9} padRight={91} yW={176} xH={24}
        xMin={33.6753} xMax={33.861} xTicks={B2_X_TICKS} xDec={2}
        yMin={0.9657} yMax={1.0229} yTicks={B2_Y_TICKS} yDec={2}
        minor={0.002} radius={1.2} series={SERIES_B2} />
      <Legend box={{ l: 183, t: 714, w: 133, h: 25 }} items={[
        place(SERIES_B2[0], 202, 727, 2.2),
      ]} />
      <Label text="RELATIVE FLUX" cx={110} cy={808} size={26} rotate />
      <Label text="BJD-2460000" cx={322} cy={947} size={26} />
      <Label text="(b)" cx={283} cy={998} size={17} serif />
    </div>
  );
}
